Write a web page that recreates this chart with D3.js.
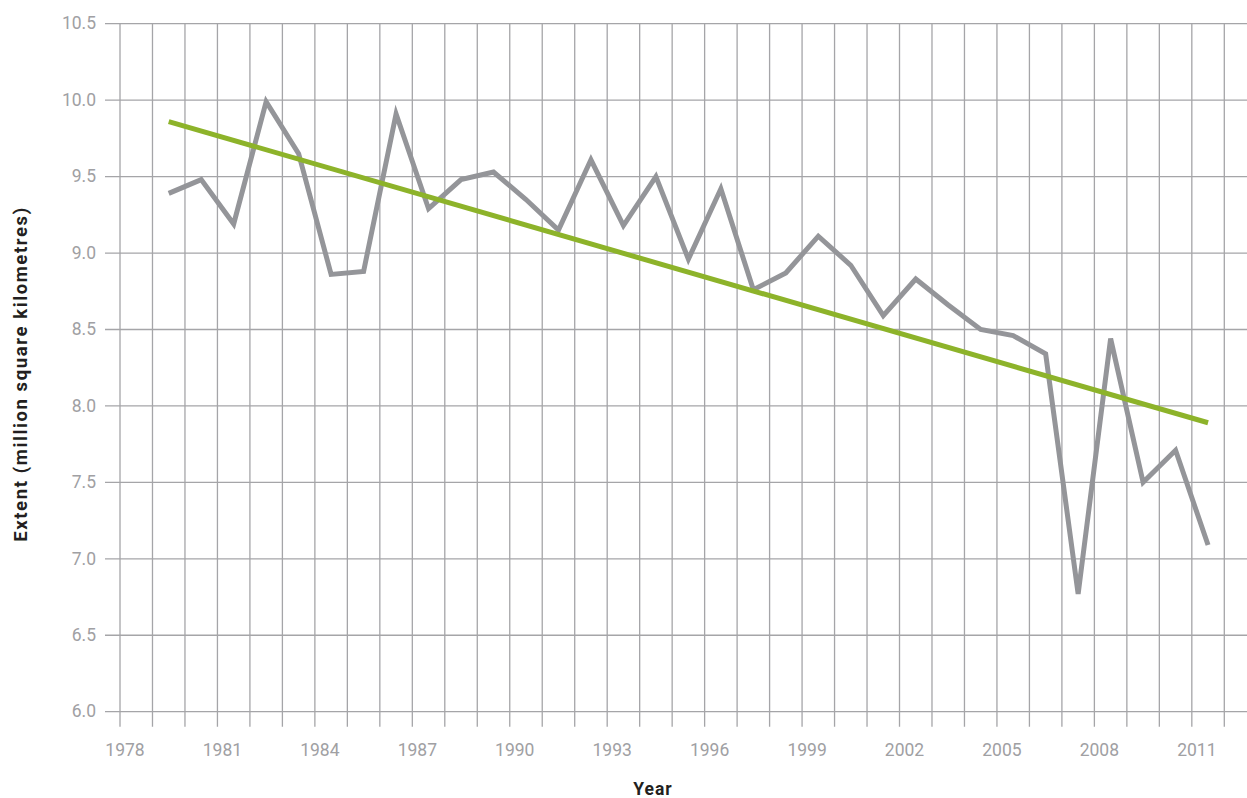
<!DOCTYPE html>
<html>
<head>
<meta charset="utf-8">
<script src="https://cdn.jsdelivr.net/npm/d3@7"></script>
<style>
    body { margin: 0; background: #fff; }
    svg { display: block; font-family: Roboto, "Noto Sans", sans-serif; }
    .grid line { stroke: #a5a5a8; stroke-width: 1.3; }
    .tick-label { fill: #a0a0a3; font-size: 17.5px; }
    .title { fill: #231f20; font-weight: bold; }
</style>
</head>
<body>
<svg width="1247" height="798"></svg>
<script>
// sea ice extent, one value per year
let years = [1979, 1980, 1981, 1982, 1983, 1984, 1985, 1986, 1987, 1988,
    1989, 1990, 1991, 1992, 1993, 1994, 1995, 1996, 1997, 1998,
    1999, 2000, 2001, 2002, 2003, 2004, 2005, 2006, 2007, 2008,
    2009, 2010, 2011];
let extent = [9.39, 9.48, 9.19, 9.99, 9.65, 8.86, 8.88, 9.91, 9.29, 9.48,
    9.53, 9.35, 9.15, 9.61, 9.18, 9.50, 8.96, 9.42, 8.76, 8.87,
    9.11, 8.92, 8.59, 8.83, 8.66, 8.50, 8.46, 8.34, 6.77, 8.44,
    7.50, 7.71, 7.09];

// linear trend, first and last year
let trendYears = [1979, 2011];
let trendValues = [9.86, 7.89];

let yTicks = [6.0, 6.5, 7.0, 7.5, 8.0, 8.5, 9.0, 9.5, 10.0, 10.5];
let xLabels = [1978, 1981, 1984, 1987, 1990, 1993, 1996, 1999, 2002, 2005, 2008, 2011];

let svg = d3.select("svg"),
    W = +svg.attr("width"),
    plot = {left: 120, right: 1224.3, top: 23.7, bottom: 711.7};

let x = d3.scaleLinear().domain([1978, 2012]).range([plot.left, plot.right]),
    y = d3.scaleLinear().domain([6, 10.5]).range([plot.bottom, plot.top]);

let grid = svg.append("g").attr("class", "grid");

// horizontal lines, with a little tick sticking out to the left
grid.selectAll(".h")
    .data(yTicks)
    .enter().append("line")
    .attr("x1", plot.left - 15)
    .attr("x2", W)
    .attr("y1", d => y(d))
    .attr("y2", d => y(d));

// one vertical line per year, running 15px below the axis
grid.selectAll(".v")
    .data(d3.range(1978, 2013))
    .enter().append("line")
    .attr("x1", d => x(d))
    .attr("x2", d => x(d))
    .attr("y1", plot.top)
    .attr("y2", plot.bottom + 15);

svg.append("g").selectAll("text")
    .data(yTicks)
    .enter().append("text")
    .attr("class", "tick-label")
    .attr("text-anchor", "end")
    .attr("x", plot.left - 24)
    .attr("y", d => y(d))
    .attr("dy", "0.33em")
    .text(d => d.toFixed(1));

svg.append("g").selectAll("text")
    .data(xLabels)
    .enter().append("text")
    .attr("class", "tick-label")
    .attr("text-anchor", "middle")
    .attr("x", d => x(d) + 5)
    .attr("y", 756)
    .text(d => d);

// data sits in the middle of each year
let line = d3.line()
    .x(d => x(d[0] + 0.5))
    .y(d => y(d[1]));

svg.append("path")
    .datum(d3.zip(years, extent))
    .attr("fill", "none")
    .attr("stroke", "#949599")
    .attr("stroke-width", 5)
    .attr("stroke-linejoin", "miter")
    .attr("d", line);

svg.append("path")
    .datum(d3.zip(trendYears, trendValues))
    .attr("fill", "none")
    .attr("stroke", "#8db32a")
    .attr("stroke-width", 5)
    .attr("d", line);

svg.append("text")
    .attr("class", "title")
    .attr("transform", "translate(27," + 374 + ") rotate(-90)")
    .attr("text-anchor", "middle")
    .style("font-size", "18.5px")
    .style("letter-spacing", "1.6px")
    .text("Extent (million square kilometres)");

svg.append("text")
    .attr("class", "title")
    .attr("x", 653)
    .attr("y", 795)
    .attr("text-anchor", "middle")
    .style("font-size", "17.5px")
    .style("letter-spacing", "1px")
    .text("Year");
</script>
</body>
</html>
